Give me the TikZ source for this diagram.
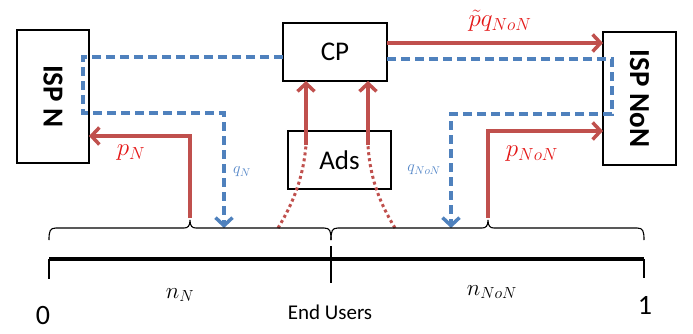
\RequirePackage{fix-cm}
\documentclass[tikz,border=0pt]{standalone}
\usepackage{fontspec}
\setmainfont{Carlito}
\setsansfont{Carlito}
\usetikzlibrary{arrows.meta}
\definecolor{ared}{RGB}{192,80,77}
\definecolor{ablue}{RGB}{79,129,189}
\definecolor{lred}{RGB}{228,24,24}
\definecolor{lblue}{RGB}{85,135,200}
\begin{document}
\begin{tikzpicture}[x=1pt,y=-1pt,
  box/.style={draw=black, line width=1.1pt, inner sep=0pt},
  boxtext/.style={font=\fontsize{27}{27}\selectfont},
  isptext/.style={font=\fontsize{29}{29}\selectfont\bfseries},
  redarrow/.style={draw=ared, line width=3.5pt, -{Straight Barb[length=8pt,width=17pt]}},
  bluedash/.style={draw=ablue, line width=3.5pt, dash pattern=on 9pt off 5pt, -{Straight Barb[length=8pt,width=17pt]}},
  reddot/.style={draw=ared, line width=3pt, dash pattern=on 3pt off 3pt},
  redlab/.style={text=lred, font=\fontsize{25}{25}\selectfont},
  bluelab/.style={text=lblue, font=\fontsize{16}{16}\selectfont},
  nlab/.style={font=\fontsize{23}{23}\selectfont},
  brace/.style={draw=black, line width=1.1pt},
  axis/.style={draw=black, line width=3.5pt},
  tick/.style={draw=black, line width=1.3pt}]
\useasboundingbox (0,0) rectangle (693,333);

% boxes
\node[box, rotate=-90, minimum width=133pt, minimum height=72pt, isptext] (ispN) at (53,96.5) {ISP N};
\node[box, minimum width=104pt, minimum height=58pt, boxtext] (cp) at (335,52) {CP};
\node[box, rotate=-90, minimum width=133pt, minimum height=73pt, isptext] (ispNoN) at (639.5,98.5) {ISP NoN};
\node[box, minimum width=103pt, minimum height=58pt, boxtext] (ads) at (339.5,160) {Ads};

% coordinates
\coordinate (cpW) at (283,57);
\coordinate (cpE) at (387,59);
\coordinate (cpEr) at (387,43);
\coordinate (nonW) at (603,43);
\coordinate (nonWb) at (603,131);
\coordinate (nW) at (89,136);
\coordinate (cpS1) at (306,81);
\coordinate (cpS2) at (368,81);
\coordinate (adsA) at (306,145);
\coordinate (adsB) at (368,145);
\coordinate (u1) at (278,228);
\coordinate (u2) at (395,228);
\coordinate (bN) at (190,218);
\coordinate (bNoN) at (488,218);
\coordinate (qNend) at (224,228);
\coordinate (qNoNend) at (451,228);

% red payment arrows
\draw[redarrow] (cpEr) -- (nonW);
\draw[redarrow] (bN) -- (190,136) -- (nW);
\draw[redarrow] (bNoN) -- (488,131) -- (nonWb);

% ads arrows
\draw[reddot] (u1) .. controls (292,205) and (303,180) .. (adsA);
\draw[reddot] (u2) .. controls (381,205) and (370,180) .. (adsB);
\draw[redarrow] (adsA) -- (cpS1);
\draw[redarrow] (adsB) -- (cpS2);

% blue dashed traffic
\draw[bluedash] (cpW) -- (83,57) -- (83,113) -- (224,113) -- (qNend);
\draw[bluedash] (cpE) -- (612,59) -- (612,114) -- (451,114) -- (qNoNend);

% labels
\node[redlab] (lpq) at (500,21) {$\tilde{p}q_{NoN}$};
\node[redlab] (lpN) at (131,153) {$p_N$};
\node[redlab] (lpNoN) at (532,154) {$p_{NoN}$};
\node[bluelab] (lqN) at (242,172) {$q_N$};
\node[bluelab] (lqNoN) at (424,170) {$q_{NoN}$};

% braces
\draw[brace] (49,240) .. controls (49,231) and (50,228) .. (56,228) -- (184,228)
  .. controls (188,228) and (190,226) .. (190,220)
  .. controls (190,226) and (192,228) .. (196,228) -- (324,228)
  .. controls (330,228) and (331,231) .. (331,240);
\draw[brace] (331,240) .. controls (331,231) and (332,228) .. (338,228) -- (482,228)
  .. controls (486,228) and (488,226) .. (488,220)
  .. controls (488,226) and (490,228) .. (494,228) -- (637,228)
  .. controls (643,228) and (644,231) .. (644,240);

% axis
\draw[axis] (49,259) -- (644,259);
\draw[tick] (49,259) -- (49,279);
\draw[tick] (331,246) -- (331,283);
\draw[tick] (644,259) -- (644,278);

\node[nlab] (nN) at (180,295) {$n_N$};
\node[nlab] (nNoN) at (492,292) {$n_{NoN}$};
\node[font=\fontsize{21}{21}\selectfont] (eu) at (330,312) {End Users};
\node[font=\fontsize{28}{28}\selectfont] (zero) at (43,316) {0};
\node[font=\fontsize{28}{28}\selectfont] (one) at (645,305) {1};
\end{tikzpicture}
\end{document}
